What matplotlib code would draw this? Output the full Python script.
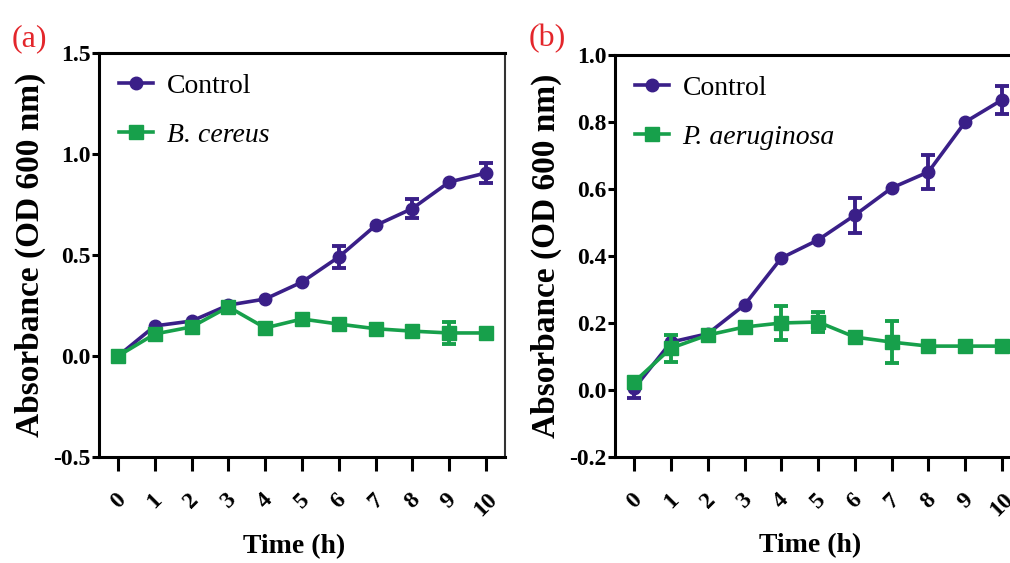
import numpy as np
import matplotlib
matplotlib.use("Agg")
import matplotlib.pyplot as plt

plt.rcParams['font.family'] = ['Liberation Serif', 'DejaVu Serif']
plt.rcParams['axes.unicode_minus'] = False

# time points (h)
hours = np.arange(0, 11)

# panel (a)
a_control = [0.00, 0.149, 0.173, 0.252, 0.282, 0.366, 0.49, 0.646, 0.73, 0.861, 0.906]
a_control_err = [0, 0, 0, 0, 0, 0, 0.055, 0, 0.048, 0, 0.05]
a_treat = [0.00, 0.109, 0.144, 0.243, 0.139, 0.183, 0.158, 0.135, 0.123, 0.114, 0.114]
a_treat_err = [0, 0, 0, 0, 0, 0, 0, 0, 0, 0.054, 0]
a_label = "B. cereus"

# panel (b)
b_control = [0.005, 0.143, 0.168, 0.254, 0.394, 0.448, 0.522, 0.603, 0.651, 0.80, 0.866]
b_control_err = [0.028, 0, 0, 0, 0, 0, 0.052, 0, 0.05, 0, 0.042]
b_treat = [0.024, 0.125, 0.164, 0.188, 0.20, 0.203, 0.158, 0.143, 0.131, 0.131, 0.131]
b_treat_err = [0, 0.04, 0, 0, 0.052, 0.03, 0, 0.062, 0, 0, 0]
b_label = "P. aeruginosa"

purple = '#3a1f88'
green = '#17a04b'

fig = plt.figure(figsize=(10.10, 5.63), dpi=100)
fig.patch.set_facecolor('white')


def panel(rect, ctrl, ctrl_err, trt, trt_err, trt_label, ylim, yticks, letter):
    ax = fig.add_axes(rect)
    x = hours
    for y, e, col, mk, ms, lab, z in [(ctrl, ctrl_err, purple, 'o', 9, 'Control', 3),
                                       (trt, trt_err, green, 's', 9.5, trt_label, 4)]:
        y = np.array(y)
        e = np.array(e)
        m = e > 0
        ax.errorbar(x[m], y[m], yerr=e[m], fmt='none', ecolor=col, elinewidth=2.8,
                    capsize=5, capthick=2.8, zorder=z)
        ax.plot(x, y, color=col, marker=mk, markersize=ms, linewidth=2.6,
                label=lab, zorder=z)

    ax.set_xlim(-0.52, 10.52)
    ax.set_ylim(*ylim)
    ax.set_xticks(hours)
    ax.set_xticklabels([str(h) for h in hours], rotation=45, fontweight='bold', fontsize=17)
    ax.set_yticks(yticks)
    ax.set_yticklabels(['%.1f' % t for t in yticks], fontweight='bold', fontsize=17)
    ax.tick_params(axis='x', direction='out', length=10, width=2.2, pad=13)
    ax.tick_params(axis='y', direction='out', length=5, width=2.2, pad=1)
    for s in ['left', 'bottom', 'top']:
        ax.spines[s].set_linewidth(2.2)
    ax.spines['right'].set_linewidth(1.5)
    ax.spines['right'].set_color('#333333')

    ax.set_xlabel('Time (h)', fontsize=20, fontweight='bold')
    ax.xaxis.set_label_coords(0.48, -0.19)
    ax.set_ylabel('Absorbance (OD 600 nm)', fontsize=24, fontweight='bold')
    ax.yaxis.set_label_coords(-0.13, 0.5)

    leg = ax.legend(loc='upper left', bbox_to_anchor=(0.05, 0.95), frameon=False,
                    prop={'size': 20}, handlelength=1.2, handletextpad=0.5,
                    labelspacing=0.85, borderaxespad=0, borderpad=0)
    leg.get_texts()[1].set_style('italic')

    fig.text(rect[0] - 0.086, 0.905, letter, color='#e3262b', fontsize=23,
             ha='left', va='bottom')
    return ax


panel([0.098, 0.1883, 0.402, 0.7176], a_control, a_control_err, a_treat, a_treat_err,
      a_label, (-0.5, 1.5), [-0.5, 0.0, 0.5, 1.0, 1.5], '(a)')
panel([0.609, 0.1883, 0.402, 0.7140], b_control, b_control_err, b_treat, b_treat_err,
      b_label, (-0.2, 1.0), [-0.2, 0.0, 0.2, 0.4, 0.6, 0.8, 1.0], '(b)')

fig.savefig('out.png', dpi=100, facecolor='white')
